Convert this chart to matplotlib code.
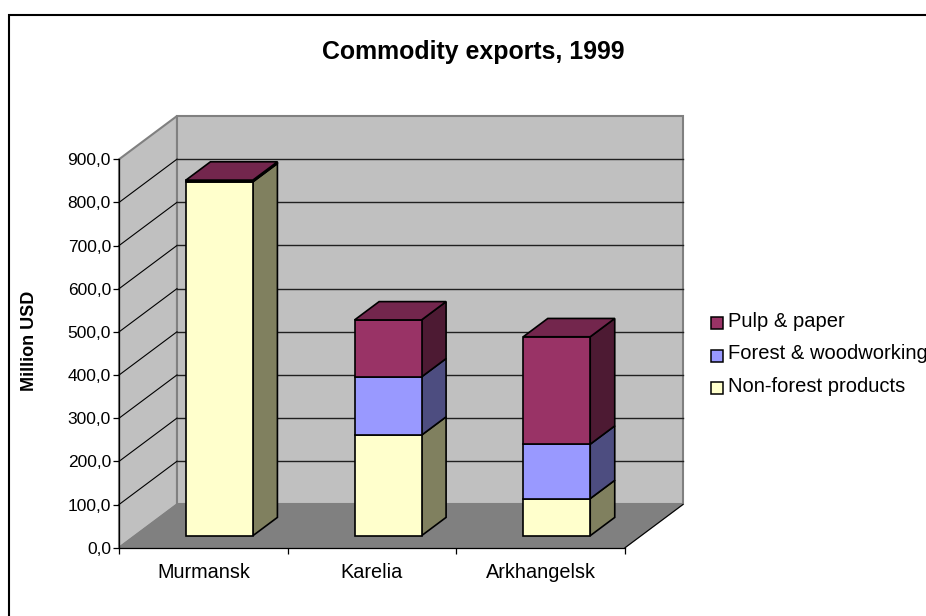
import matplotlib
matplotlib.use("Agg")
import matplotlib.pyplot as plt
from matplotlib.patches import Polygon

plt.rcParams["font.family"] = ["Liberation Sans", "DejaVu Sans"]

regions = ["Murmansk", "Karelia", "Arkhangelsk"]
series_names = ["Non-forest products", "Forest & woodworking", "Pulp & paper"]
non_forest = [820, 233, 86]
forest = [2, 135, 126]
pulp = [2, 132, 249]
series_values = [non_forest, forest, pulp]
front_colors = ["#FFFFCC", "#9999FF", "#993366"]
side_colors = ["#80805F", "#4D4D80", "#4D1A33"]
top_color = "#73264D"
y_ticks = [0, 100, 200, 300, 400, 500, 600, 700, 800, 900]

W, H = 926, 616
# front plane of the 3d box, in pixels
left, right, y_zero, y_top = 119, 625, 547.7, 159.3

fig = plt.figure(figsize=(W / 100, H / 100), dpi=100, facecolor="white")
ax = fig.add_axes([left / W, 1 - y_zero / H, (right - left) / W, (y_zero - y_top) / H])
ax.set_xlim(0, 3)
ax.set_ylim(0, 900)
ax.patch.set_alpha(0)

# depth of the box in data units
depth_x = 58 / ((right - left) / 3)
depth_y = 43.3 / ((y_zero - y_top) / 900)


def poly(points, face, edge, lw, z):
    ax.add_patch(Polygon(points, closed=True, facecolor=face, edgecolor=edge,
                         linewidth=lw, clip_on=False, zorder=z, joinstyle="miter"))


# walls and floor
poly([(0, 0), (depth_x, depth_y), (depth_x, 900 + depth_y), (0, 900)], "#C0C0C0", "#808080", 1.5, 1)
poly([(depth_x, depth_y), (3 + depth_x, depth_y), (3 + depth_x, 900 + depth_y), (depth_x, 900 + depth_y)],
     "#C0C0C0", "#808080", 1.5, 1)
poly([(0, 0), (3, 0), (3 + depth_x, depth_y), (depth_x, depth_y)], "#808080", "#808080", 1, 1)
ax.plot([3, 3 + depth_x], [0, depth_y], color="black", lw=0.8, clip_on=False, zorder=2)

# gridlines on both walls, the top one is the wall edge
for v in y_ticks[1:-1]:
    ax.plot([0, depth_x], [v, v + depth_y], color="black", lw=0.8, clip_on=False, zorder=2)
    ax.plot([depth_x, 3 + depth_x], [v + depth_y, v + depth_y], color="#202020", lw=1.0, clip_on=False, zorder=2)

# bars
bar_w = 0.397
near = 0.277
far = 0.70
for i in range(len(regions)):
    x0 = i + 0.5 + near * depth_x - bar_w / 2
    x1 = x0 + bar_w
    dx = (far - near) * depth_x
    dy = (far - near) * depth_y
    base = near * depth_y
    for j, vals in enumerate(series_values):
        top = base + vals[i]
        poly([(x1, base), (x1 + dx, base + dy), (x1 + dx, top + dy), (x1, top)],
             side_colors[j], "black", 1.2, 5)
        poly([(x0, base), (x1, base), (x1, top), (x0, top)], front_colors[j], "black", 1.2, 6)
        base = top
    poly([(x0, base), (x1, base), (x1 + dx, base + dy), (x0 + dx, base + dy)], top_color, "black", 1.2, 7)

# axes
for s in ["top", "right"]:
    ax.spines[s].set_visible(False)
for s in ["left", "bottom"]:
    ax.spines[s].set_linewidth(0.9)
    ax.spines[s].set_zorder(3)
ax.set_yticks(y_ticks)
ax.set_yticklabels([f"{v:.1f}".replace(".", ",") for v in y_ticks], fontsize=12.5)
ax.set_xticks(range(4))
ax.set_xticklabels([])
ax.set_xticks([i + 0.5 for i in range(3)], minor=True)
ax.set_xticklabels(regions, minor=True, fontsize=14.3)
ax.tick_params(axis="both", which="major", length=4.3, width=0.9, color="black")
ax.tick_params(axis="x", which="minor", length=0, pad=11)
ax.tick_params(axis="y", pad=1.5)

fig.text(473 / W, 1 - 52 / H, "Commodity exports, 1999", fontsize=17.9, fontweight="bold", ha="center", va="center")
fig.text(30 / W, 1 - 341 / H, "Million USD", fontsize=13, fontweight="bold", rotation=90, ha="center", va="center")

# legend, newest series first
legend_y = [326.7, 359.3, 391.7]
for name, col, ypos in zip(series_names[::-1], front_colors[::-1], legend_y):
    fig.patches.append(plt.Rectangle((710.5 / W, 1 - (ypos + 2.5) / H), 12 / W, 12 / H, transform=fig.transFigure,
                                     facecolor=col, edgecolor="black", linewidth=1.1))
    fig.text(728 / W, 1 - ypos / H, name, fontsize=14.5, ha="left", va="baseline")

# chart area border, runs off the image on the right and bottom
fig.add_artist(plt.Line2D([9 / W, 9 / W, 1], [0, 1 - 15 / H, 1 - 15 / H], color="black", lw=1.5,
                          transform=fig.transFigure, solid_joinstyle="miter"))

fig.savefig("out.png", dpi=100)
